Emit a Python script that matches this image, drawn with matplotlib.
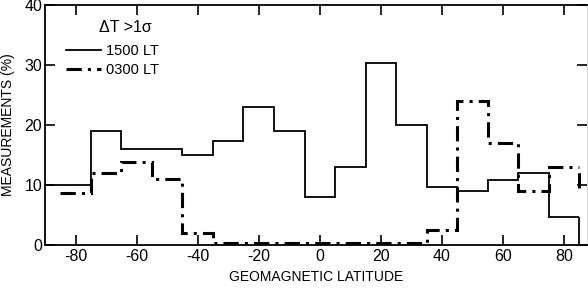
import numpy as np
import matplotlib
matplotlib.use("Agg")
import matplotlib.pyplot as plt

plt.rcParams['font.family'] = ['Liberation Sans', 'DejaVu Sans']
plt.rcParams['axes.unicode_minus'] = False

# 10-degree latitude bins (edges), percent of measurements per bin
day_edges = [-90, -75, -65, -55, -45, -35, -25, -15, -5, 5, 15, 25, 35, 45, 55, 65, 75, 85]
day_vals = [10, 19, 16, 16, 15, 17.3, 23, 19, 8, 13, 30.3, 20, 9.7, 9, 10.8, 12, 4.7]

night_edges = [-85, -75, -65, -55, -45, -35, -25, -15, -5, 5, 15, 25, 35, 45, 55, 65, 75, 85]
night_vals = [8.7, 12, 13.8, 11, 2, 0.3, 0.3, 0.3, 0.3, 0.3, 0.3, 0.3, 2.5, 24, 17, 9, 13]
night_end = 9.5  # where the dash-dot line stops on the last edge

xticks = [-80, -60, -40, -20, 0, 20, 40, 60, 80]
yticks = [0, 10, 20, 30, 40]

fig = plt.figure(figsize=(5.88, 2.92), dpi=100)
ax = fig.add_axes([45/588, 1-245/292, 542/588, 240/292])

dd = (0, (5, 2, 1, 2))
# solid: day side, drops to zero at the last edge
ax.stairs(day_vals, day_edges, baseline=None, color='black', lw=1.3, label='1500 LT')
ax.vlines(day_edges[-1], 0, day_vals[-1], color='black', lw=1.3)
ax.stairs(night_vals, night_edges, baseline=None, color='black', lw=2.2,
          linestyle=dd, label='0300 LT')
ax.vlines(night_edges[-1], night_end, night_vals[-1], color='black', lw=2.2, linestyle=dd)

ax.set_xlim(-90, 87.5)
ax.set_ylim(0, 40)
ax.set_xticks(xticks)
ax.set_yticks(yticks)
ax.tick_params(axis='both', direction='in', length=7, width=1.2, labelsize=11.5,
               top=True, right=True, pad=3)
ax.tick_params(axis='y', pad=2)
for side in ['left', 'bottom', 'top']:
    ax.spines[side].set_linewidth(1.3)
ax.spines['right'].set_linewidth(0.4)
ax.spines['right'].set_color('#bbbbbb')

ax.set_xlabel('GEOMAGNETIC LATITUDE', fontsize=10, labelpad=4)
ax.set_ylabel('MEASUREMENTS (%)', fontsize=10, labelpad=7)

ax.text(0.10, 0.905, 'ΔT >1σ', transform=ax.transAxes, fontsize=11.5, va='center')
ax.legend(loc='upper left', bbox_to_anchor=(0.028, 0.86), frameon=False, fontsize=10.5,
          handlelength=2.4, handletextpad=0.35, labelspacing=0.3, borderaxespad=0)

fig.savefig('out.png', dpi=100)
